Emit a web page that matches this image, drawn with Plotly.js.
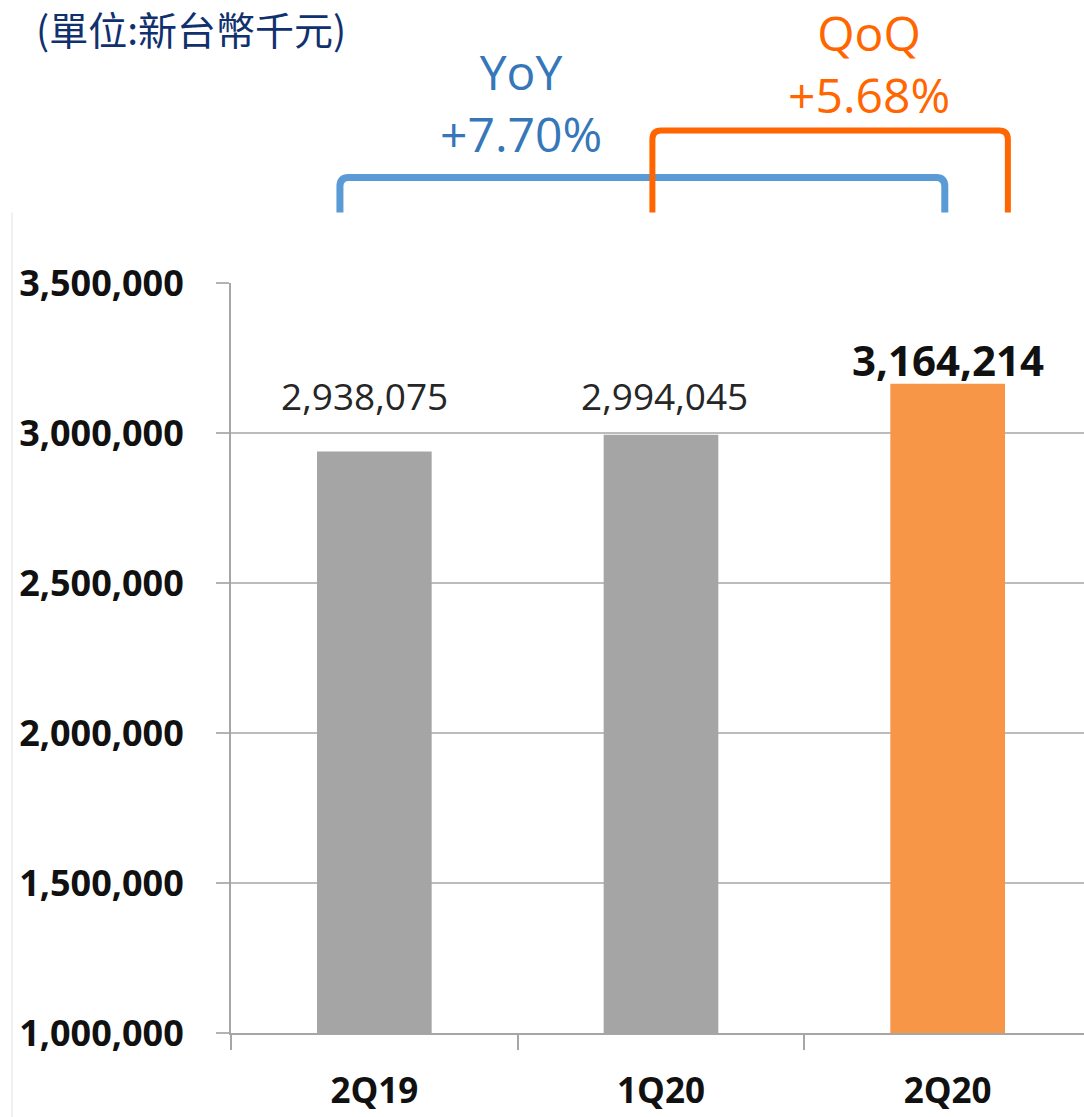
<!DOCTYPE html>
<html>
<head>
<meta charset="utf-8">
<script src="https://cdn.plot.ly/plotly-3.0.1.min.js"></script>
<style>html,body{margin:0;padding:0;background:#fff;}#chart{width:1084px;height:1117px;}</style>
</head>
<body>
<div id="chart"></div>
<script>
// ---- data ----
const categories = ['2Q19', '1Q20', '2Q20'];
const revenue = [2938075, 2994045, 3164214];
const barColors = ['#a5a5a5', '#a5a5a5', '#f79646'];
const unitTitle = '(單位:新台幣千元)';
const yoyName = 'YoY';
const qoqName = 'QoQ';

// ---- derived labels ----
const pct = (a, b) => '+' + ((a / b - 1) * 100).toFixed(2) + '%';
const yoyText = pct(revenue[2], revenue[0]);
const qoqText = pct(revenue[2], revenue[1]);

const trace = {
  type: 'bar',
  x: categories,
  y: revenue,
  marker: {color: barColors, line: {width: 0}},
  width: 0.4,
  hoverinfo: 'x+y'
};

// value labels (style offsets only)
const labelShift = [56, 39, 24];
const labelXShift = [-10, 3, 0];
const labelFont = [
  {family: 'Open Sans, sans-serif', size: 37, color: '#262626'},
  {family: 'Open Sans, sans-serif', size: 37, color: '#262626'},
  {family: 'Open Sans, sans-serif', size: 42, color: '#111111', weight: 'bold'}
];
const valueAnns = categories.map((c, i) => ({
  x: c, y: revenue[i], xref: 'x', yref: 'y',
  text: i === 2 ? '<b>' + revenue[i].toLocaleString('en-US') + '</b>' : revenue[i].toLocaleString('en-US'),
  showarrow: false, yanchor: 'middle', xanchor: 'center',
  yshift: labelShift[i], xshift: labelXShift[i],
  font: labelFont[i]
}));

const blue = '#3577b8', orange = '#ff6600';
const growthAnns = [
  {x: 0.51, y: 1.241, text: yoyName + '<br>' + yoyText, color: blue},
  {x: 1.725, y: 1.2933, text: qoqName + '<br>' + qoqText, color: orange}
].map(a => ({
  x: a.x, y: a.y, xref: 'x', yref: 'paper', text: a.text, showarrow: false,
  xanchor: 'center', yanchor: 'middle', align: 'center',
  font: {family: 'Open Sans, sans-serif', size: 48, color: a.color}
}));

function bracket(x0, x1, yTop, yBot, color, w) {
  const dx = 0.03, dy = 0.012;
  return {
    type: 'path', xref: 'x', yref: 'paper',
    path: `M ${x0},${yBot} L ${x0},${yTop - dy} Q ${x0},${yTop} ${x0 + dx},${yTop} L ${x1 - dx},${yTop} Q ${x1},${yTop} ${x1},${yTop - dy} L ${x1},${yBot}`,
    line: {color: color, width: w}
  };
}

const layout = {
  width: 1084, height: 1117,
  margin: {l: 231, r: 0, t: 283, b: 84, pad: 0},
  paper_bgcolor: '#ffffff', plot_bgcolor: '#ffffff',
  showlegend: false,
  title: {
    text: unitTitle, x: 36 / 1084, xanchor: 'left', xref: 'container',
    y: 1 - 31 / 1117, yanchor: 'middle', yref: 'container',
    font: {family: 'Noto Sans CJK TC, sans-serif', size: 39, color: '#10306e'}
  },
  xaxis: {
    type: 'category', range: [-0.5, 2.4756], fixedrange: true,
    showline: true, linecolor: '#a6a6a6', linewidth: 2,
    ticks: 'outside', tickson: 'boundaries', ticklen: 15, tickcolor: '#a6a6a6', tickwidth: 2,
    showgrid: false, ticklabelstandoff: 26,
    tickfont: {family: 'Open Sans, sans-serif', size: 35, color: '#111111', weight: 'bold'}
  },
  yaxis: {
    range: [1000000, 3500000], dtick: 500000, tick0: 0, tickformat: ',d', fixedrange: true,
    showline: true, linecolor: '#a6a6a6', linewidth: 2,
    ticks: 'outside', ticklen: 13, tickcolor: '#b3b3b3', tickwidth: 2,
    showgrid: true, gridcolor: '#bcbcbc', gridwidth: 2, zeroline: false,
    ticklabelstandoff: 25,
    tickfont: {family: 'Open Sans, sans-serif', size: 36, color: '#111111', weight: 'bold'}
  },
  annotations: valueAnns.concat(growthAnns),
  shapes: [
    bracket(-0.12, 1.99, 1.1407, 1.094, '#5b9bd5', 7),
    bracket(0.97, 2.21, 1.2035, 1.094, orange, 6),
    {type: 'line', xref: 'paper', yref: 'paper', x0: -0.2567, x1: -0.2567, y0: -0.112, y1: 1.094,
     line: {color: '#f0f0f0', width: 2}}
  ]
};

Plotly.newPlot('chart', [trace], layout, {displayModeBar: false, staticPlot: true});
</script>
</body>
</html>
